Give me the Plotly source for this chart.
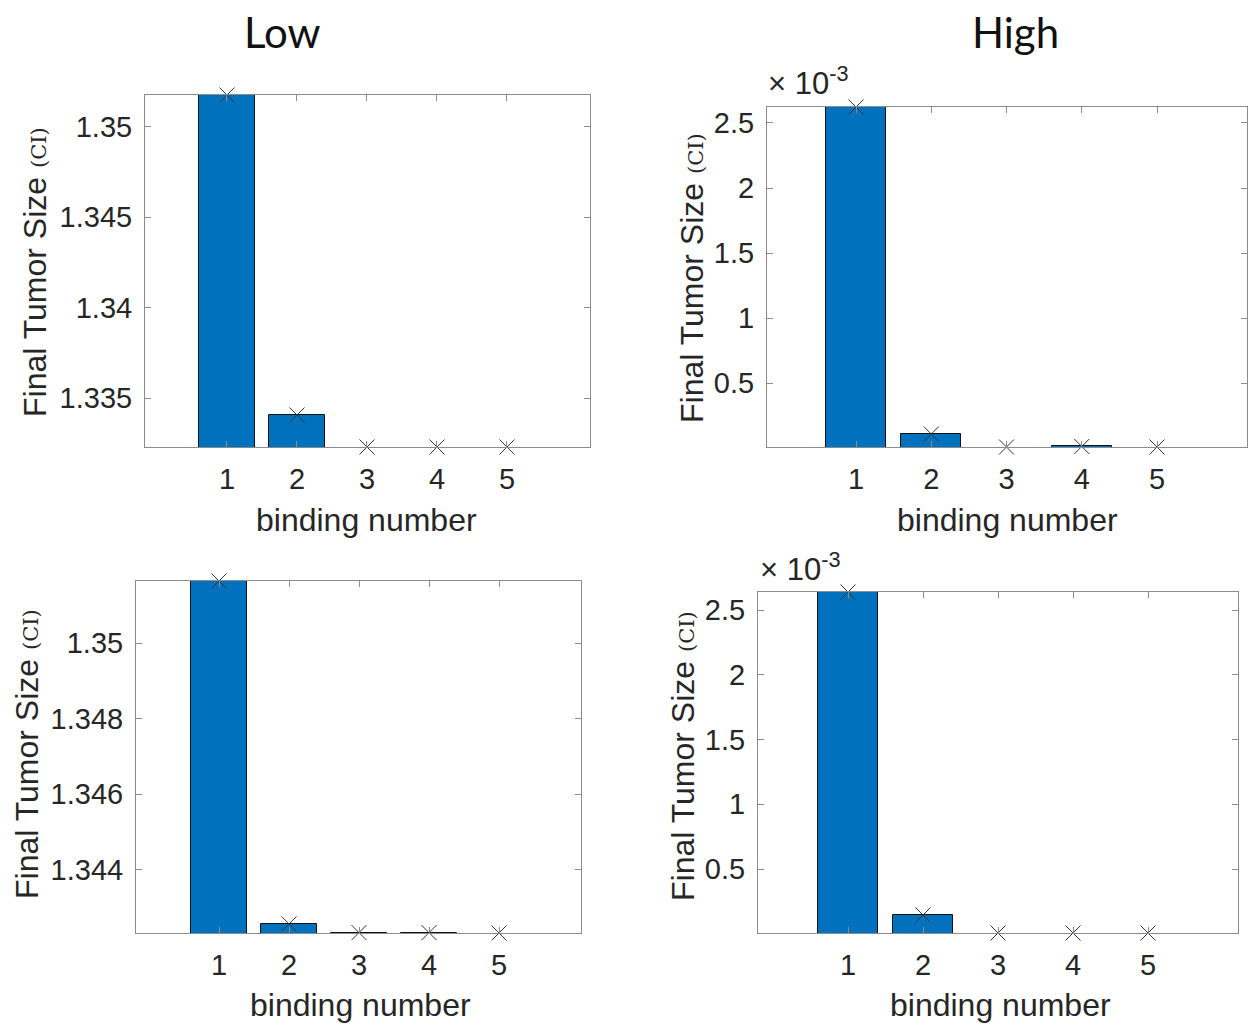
import plotly.graph_objects as go

# ---------------- data ----------------
binding = [1, 2, 3, 4, 5]
low_top = [1.35177, 1.33406, 1.33229, 1.33229, 1.33229]
high_top = [2.623e-3, 0.108e-3, 0.008e-3, 0.012e-3, 0.008e-3]
low_bottom = [1.35164, 1.34257, 1.34234, 1.34234, 1.34233]
high_bottom = [2.639e-3, 0.145e-3, 0.006e-3, 0.006e-3, 0.006e-3]

low_top_ticks = [1.335, 1.34, 1.345, 1.35]
low_top_ticktext = ["1.335", "1.34", "1.345", "1.35"]
low_bottom_ticks = [1.344, 1.346, 1.348, 1.35]
low_bottom_ticktext = ["1.344", "1.346", "1.348", "1.35"]
high_ticks = [0.5, 1, 1.5, 2, 2.5]
high_ticktext = ["0.5", "1", "1.5", "2", "2.5"]
scale_high = 1e3  # displayed in units of 10^-3

col_titles = ["Low", "High"]
y_label = "Final Tumor Size"
x_label = "binding number"

W, H = 1256, 1032
OFF = 8  # page body margin
FW, FH = W - 2 * OFF, H - 2 * OFF
BAR = "#0072BD"
AX = "#8c8c8c"
TXT = "#262626"
FONT = "Liberation Sans, Arial, sans-serif"


def px(x):
    return (x - OFF) / FW


def py(y):
    return 1 - (y - OFF) / FH


panels = [
    dict(vals=low_top, s=1, tv=low_top_ticks, tt=low_top_ticktext,
         box=(145, 95, 590, 447), xr=[-0.171, 6.186]),
    dict(vals=high_top, s=scale_high, tv=high_ticks, tt=high_ticktext,
         box=(767, 107, 1247, 447), xr=[-0.183, 6.196]),
    dict(vals=low_bottom, s=1, tv=low_bottom_ticks, tt=low_bottom_ticktext,
         box=(136, 581, 581, 933), xr=[-0.186, 6.171]),
    dict(vals=high_bottom, s=scale_high, tv=high_ticks, tt=high_ticktext,
         box=(758, 592, 1238, 933), xr=[-0.2, 6.2]),
]

fig = go.Figure()
layout = {}
for i, p in enumerate(panels):
    n = i + 1
    xa = "x" if n == 1 else f"x{n}"
    ya = "y" if n == 1 else f"y{n}"
    v = [val * p["s"] for val in p["vals"]]
    ymin, ymax = min(v), max(v)
    lw = [0 if val <= ymin else 1 for val in v]
    fig.add_trace(go.Bar(x=binding, y=v, width=0.8, xaxis=xa, yaxis=ya,
                         marker=dict(color=BAR, line=dict(color="#111111", width=lw)),
                         showlegend=False))
    fig.add_trace(go.Scatter(x=binding, y=v, mode="markers", xaxis=xa, yaxis=ya,
                             cliponaxis=False,
                             marker=dict(symbol="x-thin", size=15,
                                         line=dict(color="#333333", width=1)),
                             showlegend=False))
    l, t, r, b = p["box"]
    common = dict(showline=True, linecolor=AX, linewidth=1, mirror="allticks",
                  ticks="inside", ticklen=6, tickcolor=AX, showgrid=False,
                  zeroline=False, tickfont=dict(family=FONT, size=29, color=TXT))
    layout[f"xaxis{'' if n == 1 else n}"] = dict(
        domain=[px(l), px(r)], anchor=ya, range=p["xr"],
        tickvals=binding, ticktext=[str(b_) for b_ in binding],
        ticklabelstandoff=6, **common)
    layout[f"yaxis{'' if n == 1 else n}"] = dict(
        domain=[py(b), py(t)], anchor=xa, range=[ymin, ymax],
        tickvals=p["tv"], ticktext=p["tt"], ticklabelstandoff=6, **common)

fig.update_layout(**layout)

ann = []
# column titles
for txt, cx in zip(col_titles, [282, 1015]):
    ann.append(dict(text=txt, x=px(cx), y=py(32), xref="paper", yref="paper",
                    showarrow=False, xanchor="center", yanchor="middle",
                    font=dict(family="Lato, Noto Sans, sans-serif", size=42, color="#111111")))
# y labels
ylab = (f"{y_label} <span style='font-size:21px;font-family:DejaVu Serif'>(CI)</span>")
for cx, cy in [(35, 272), (692, 278), (27, 754), (683, 756)]:
    ann.append(dict(text=ylab, x=px(cx), y=py(cy), xref="paper", yref="paper",
                    showarrow=False, xanchor="center", yanchor="middle", textangle=-90,
                    font=dict(family=FONT, size=32, color=TXT)))
# x labels
for cx, cy in [(367, 520), (1008, 520), (360, 1005), (1000, 1005)]:
    ann.append(dict(text=x_label, x=px(cx), y=py(cy), xref="paper", yref="paper",
                    showarrow=False, xanchor="center", yanchor="middle",
                    font=dict(family=FONT, size=32, color=TXT)))
# exponent multipliers
for lx, by in [(766, 103), (758, 589)]:
    ann.append(dict(text="× 10<sup>-3</sup>", x=px(lx), y=py(by), xref="paper", yref="paper",
                    showarrow=False, xanchor="left", yanchor="bottom",
                    font=dict(family=FONT, size=31, color=TXT)))

fig.update_layout(annotations=ann, width=FW, height=FH,
                  margin=dict(l=0, r=0, t=0, b=0),
                  paper_bgcolor="white", plot_bgcolor="white",
                  bargap=0)

fig.write_html("out.html")
